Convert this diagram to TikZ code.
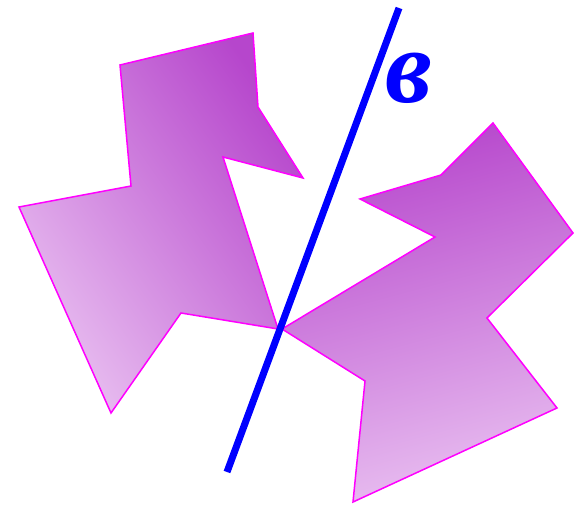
\documentclass[tikz,border=0pt]{standalone}
\usepackage{fontspec}
\newfontfamily\labfont{Liberation Serif}
\definecolor{polydark}{RGB}{182,70,204}
\definecolor{polylight}{RGB}{232,190,240}
\definecolor{edgemag}{RGB}{255,0,255}
\tikzset{
  poly/.style={draw=edgemag, line width=1.5pt, line join=miter},
  axisline/.style={draw=blue, line width=7pt},
}
\begin{document}
\begin{tikzpicture}[x=1pt,y=-1pt]
\useasboundingbox (0,0) rectangle (576,505);
% left polygon
\path[poly, top color=polydark, bottom color=polylight, shading angle=-55]
  (120,65) -- (253,33) -- (258,107) -- (303,178) -- (223,157) -- (278,329)
  -- (181,313) -- (111,413) -- (19,207) -- (131,186) -- cycle;
% right polygon (mirror image)
\path[poly, top color=polydark, bottom color=polylight, shading angle=15]
  (573,233) -- (493,123) -- (441,175) -- (360,199) -- (435,237) -- (282,329)
  -- (365,381) -- (353,502) -- (557,408) -- (487,318) -- cycle;
% mirror line
\coordinate (ltop) at (399,8);
\coordinate (lbot) at (227,472);
\draw[axisline] (lbot) -- (ltop);
\node[text=blue, font=\labfont\bfseries\itshape\fontsize{105}{105}\selectfont, inner sep=0pt] (lab) at (409,78) {в};
\end{tikzpicture}
\end{document}
